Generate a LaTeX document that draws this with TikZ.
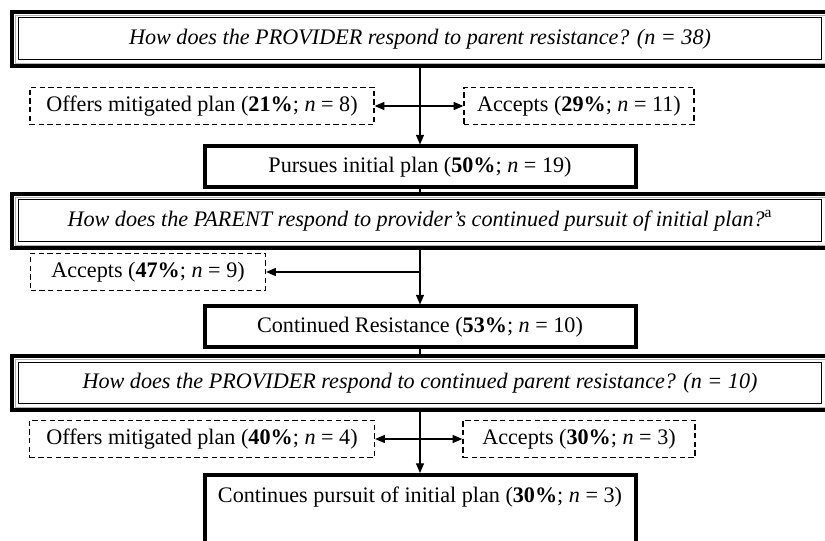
\documentclass[tikz,border=0pt]{standalone}
\usepackage{fontspec}
\setmainfont{Liberation Serif}
\usetikzlibrary{arrows.meta}

\begin{document}
\begin{tikzpicture}[x=0.6pt, y=-0.6pt, line width=0.7pt,
    font=\fontsize{13.3}{15}\selectfont,
    >={Triangle[length=5.8pt,width=4.8pt]},
    questionbox/.style={draw, line width=0.6pt, font=\fontsize{13.3}{15}\selectfont\itshape,
        minimum width=482.4pt, minimum height=25.2pt, inner sep=0pt, outer sep=4.8pt},
    resultbox/.style={draw, line width=2.4pt, minimum width=258.6pt, minimum height=24.6pt, inner sep=0pt},
    choicebox/.style={draw, line width=0.75pt, dash pattern=on 3.2pt off 2pt,
        minimum height=22.5pt, inner sep=0pt}]
    \useasboundingbox (0,0) rectangle (825,541);

    % Questions
    \node[questionbox] (q1) at (420,39) {How does the PROVIDER respond to parent resistance? (n = 38)};
    \node[questionbox] (q2) at (420,221) {How does the PARENT respond to provider’s continued pursuit of initial plan?\textsuperscript{\upshape a}};
    \node[questionbox] (q3) at (420,383) {How does the PROVIDER respond to continued parent resistance? (n = 10)};

    % Outer frames of the questions
    \foreach \q in {q1,q2,q3} {
        \draw[line width=2.4pt] ([shift={(1.2pt,-1.2pt)}]\q.north west) rectangle ([shift={(-1.2pt,1.2pt)}]\q.south east);
        \draw[gray!60, line width=0.3pt] ([shift={(2.9pt,-2.9pt)}]\q.north west) rectangle ([shift={(-2.9pt,2.9pt)}]\q.south east);
    }

    % Responses
    \node[choicebox, minimum width=206.4pt] (mit1) at (202,106) {Offers mitigated plan (\textbf{21\%}; \textit{n} = 8)};
    \node[choicebox, minimum width=138pt] (acc1) at (579,106) {Accepts (\textbf{29\%}; \textit{n} = 11)};
    \node[resultbox] (pur) at (420,167) {Pursues initial plan (\textbf{50\%}; \textit{n} = 19)};

    \node[choicebox, minimum width=141pt] (acc2) at (148,272) {Accepts (\textbf{47\%}; \textit{n} = 9)};
    \node[resultbox] (cres) at (420,327) {Continued Resistance (\textbf{53\%}; \textit{n} = 10)};

    \node[choicebox, minimum width=207pt] (mit2) at (202,439) {Offers mitigated plan (\textbf{40\%}; \textit{n} = 4)};
    \node[choicebox, minimum width=139.2pt] (acc3) at (579,439) {Accepts (\textbf{30\%}; \textit{n} = 3)};
    \node[resultbox, anchor=north, inner ysep=7pt, text depth=34pt] (cont) at (420,473) {Continues pursuit of initial plan (\textbf{30\%}; \textit{n} = 3)};

    % Spine
    \draw[->] (q1) -- (pur);
    \draw (pur) -- (q2);
    \draw[->] (q2) -- (cres);
    \draw (cres) -- (q3);
    \draw[->] (q3) -- (cont);

    % Side branches
    \coordinate (j2) at (420,272);
    \draw[<->] (mit1) -- (acc1);
    \draw[->] (j2) -- (acc2);
    \draw[<->] (mit2) -- (acc3);
\end{tikzpicture}
\end{document}
